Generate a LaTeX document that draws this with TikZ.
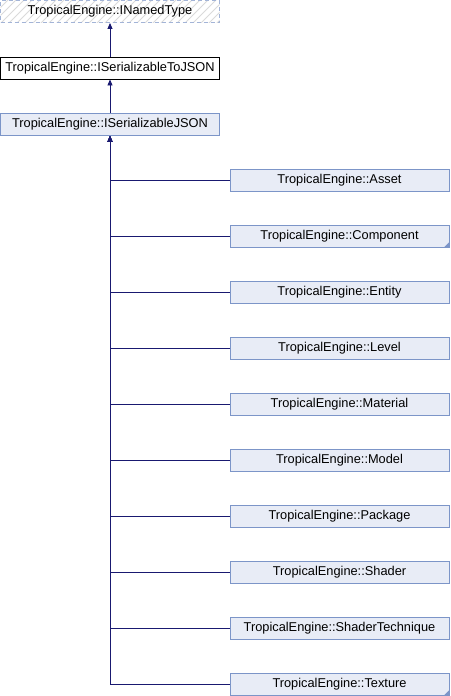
\documentclass[tikz,border=0pt]{standalone}
\usepackage{fontspec}
\setmainfont{Liberation Sans}
\usetikzlibrary{arrows.meta}
\definecolor{boxfill}{HTML}{E8ECF6}
\definecolor{boxdraw}{HTML}{7C95C8}
\definecolor{edgecol}{HTML}{191970}
\definecolor{dashdraw}{HTML}{A3B4D7}
\definecolor{hatch}{HTML}{DADADA}
\begin{document}
\begin{tikzpicture}[x=1pt,y=-1pt,
  cls/.style={rectangle, minimum width=219pt, minimum height=22pt, inner sep=0pt, font=\fontsize{12.8}{14}\selectfont},
  blue/.style={cls, draw=boxdraw, fill=boxfill, line width=0.9pt},
  plain/.style={cls, draw=black, fill=white, line width=0.9pt},
  ext/.style={cls, draw=dashdraw, dash pattern=on 4pt off 3pt, line width=0.9pt},
  hatchline/.style={draw=hatch, line width=0.9pt},
  edge/.style={draw=edgecol, line width=0.9pt, -{Triangle[length=6pt,width=5pt]}},
  fold/.style={fill=boxdraw}
]
\useasboundingbox (0,0) rectangle (450,696);
\begin{scope}
  \clip (0.5,0.5) rectangle (219.5,22.5);
  \foreach \k in {0,8,...,250}{
    \draw[hatchline] (\k-30,30) -- (\k+10,-10);
  }
\end{scope}
\node[ext] (named) at (110,11.5) {TropicalEngine::INamedType};
\node[plain] (tojson) at (110,68) {TropicalEngine::ISerializableToJSON};
\node[blue] (json) at (110,124.5) {TropicalEngine::ISerializableJSON};
\draw[edge] (tojson.north) -- (named.south);
\draw[edge] (json.north) -- (tojson.south);
\foreach \n/\t [count=\i from 0] in {asset/Asset,component/Component,entity/Entity,level/Level,material/Material,model/Model,package/Package,shader/Shader,technique/ShaderTechnique,texture/Texture}{
  \node[blue] (\n) at (339.5,{180.5+56*\i}) {TropicalEngine::\t};
  \draw[edge] (\n.west) -| (json.south);
}
\fill[fold] (component.south east) -- ++(-6,0) -- ++(6,-6) -- cycle;
\fill[fold] (texture.south east) -- ++(-6,0) -- ++(6,-6) -- cycle;
\end{tikzpicture}
\end{document}
